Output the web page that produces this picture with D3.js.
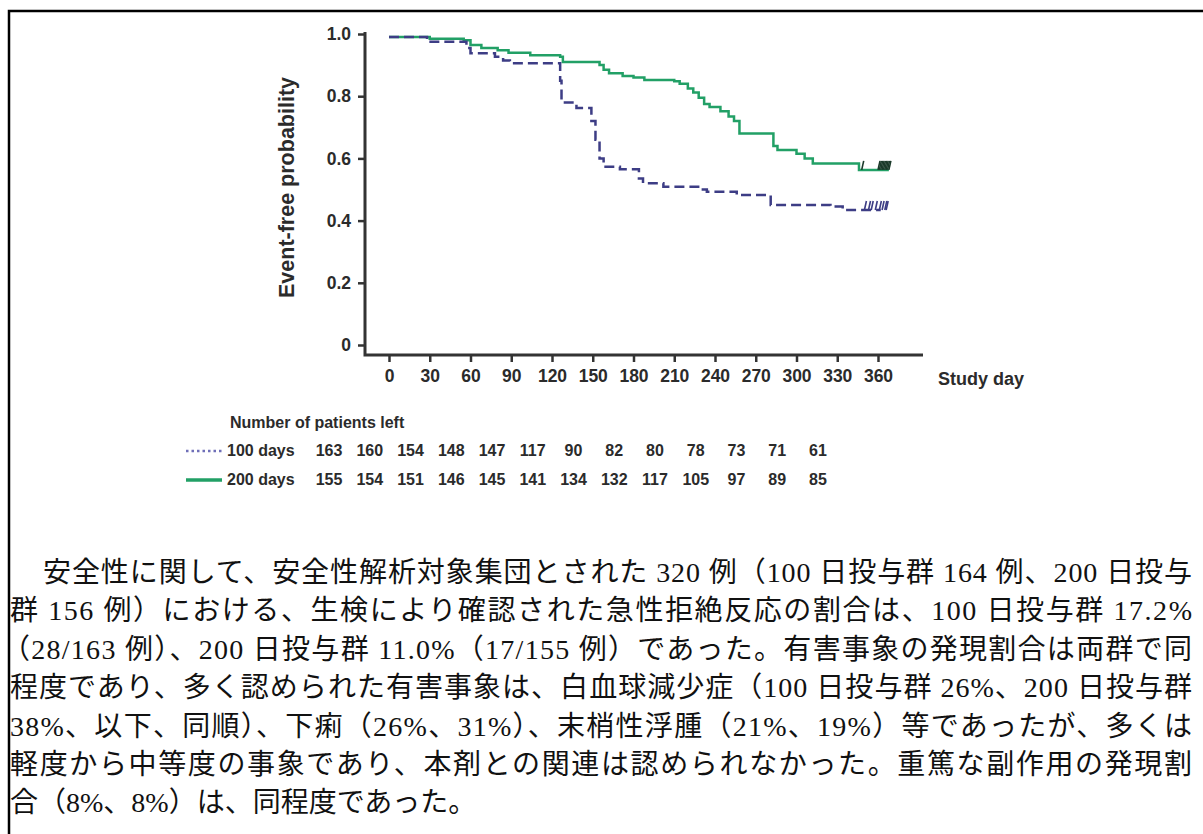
<!DOCTYPE html>
<html lang="ja">
<head>
<meta charset="utf-8">
<script src="https://cdn.jsdelivr.net/npm/d3@7"></script>
<style>
  body { margin: 0; background: #fff; }
</style>
</head>
<body>
<svg id="chart" width="1203" height="834"></svg>
<script>
'use strict';

var xTicks = [0, 30, 60, 90, 120, 150, 180, 210, 240, 270, 300, 330, 360];
var yTicks = [0, 0.2, 0.4, 0.6, 0.8, 1.0];
var groupLabels = ['100 days', '200 days'];

// patients at risk, one per x tick
var risk100 = [163, 160, 154, 148, 147, 117, 90, 82, 80, 78, 73, 71, 61];
var risk200 = [155, 154, 151, 146, 145, 141, 134, 132, 117, 105, 97, 89, 85];

// Kaplan-Meier steps (day, event-free probability)
var t100 = [0, 28, 57, 60, 78, 84, 89, 126, 127, 138, 149, 152, 155, 158, 170, 184, 187, 202, 230, 234, 256, 281, 325, 334, 362];
var s100 = [0.99, 0.975, 0.955, 0.938, 0.927, 0.915, 0.906, 0.85, 0.78, 0.762, 0.72, 0.66, 0.6, 0.573, 0.565, 0.535, 0.52, 0.509, 0.5, 0.493, 0.482, 0.45, 0.445, 0.434, 0.434];
var t200 = [0, 30, 55, 60, 68, 80, 88, 104, 126, 128, 155, 158, 162, 172, 180, 188, 210, 214, 220, 224, 228, 232, 236, 244, 250, 254, 258, 283, 286, 300, 306, 312, 346, 368];
var s200 = [0.99, 0.985, 0.98, 0.965, 0.955, 0.948, 0.94, 0.932, 0.927, 0.91, 0.9, 0.885, 0.874, 0.865, 0.86, 0.852, 0.848, 0.84, 0.825, 0.812, 0.795, 0.775, 0.765, 0.752, 0.735, 0.72, 0.68, 0.64, 0.627, 0.615, 0.6, 0.584, 0.563, 0.563];

// censored observations at the end of follow-up
var cens100 = [350, 353, 355, 358, 361, 363, 365, 366];
var cens200 = [348, 360, 361, 362, 363, 364, 365, 366, 367, 368];

var paraLines = [
  '安全性に関して、安全性解析対象集団とされた 320 例（100 日投与群 164 例、200 日投与',
  '群 156 例）における、生検により確認された急性拒絶反応の割合は、100 日投与群 17.2%',
  '（28/163 例）、200 日投与群 11.0%（17/155 例）であった。有害事象の発現割合は両群で同',
  '程度であり、多く認められた有害事象は、白血球減少症（100 日投与群 26%、200 日投与群',
  '38%、以下、同順）、下痢（26%、31%）、末梢性浮腫（21%、19%）等であったが、多くは',
  '軽度から中等度の事象であり、本剤との関連は認められなかった。重篤な副作用の発現割',
  '合（8%、8%）は、同程度であった。'
];

var colours = { c100: '#3d3d85', c200: '#22a066', axis: '#333', text: '#2b2b2b' };
var sans = 'Liberation Sans, Arial, Helvetica, sans-serif';

var svg = d3.select('#chart');

// frame around the page
svg.append('path')
  .attr('d', 'M9,834V11H1203')
  .attr('fill', 'none')
  .attr('stroke', '#000')
  .attr('stroke-width', 2.5);

var x = d3.scaleLinear().domain([0, 360]).range([389, 878]);
var y = d3.scaleLinear().domain([0, 1]).range([345, 34]);

var axisY = 355, axisX = 365;

// y axis
var gy = svg.append('g')
  .attr('transform', 'translate(' + axisX + ',0)')
  .call(d3.axisLeft(y).tickValues(yTicks).tickSize(7).tickPadding(7)
    .tickFormat(function(d) { return d === 0 ? '0' : d3.format('.1f')(d); }));
gy.select('.domain').remove();

// x axis
var gx = svg.append('g')
  .attr('transform', 'translate(0,' + axisY + ')')
  .call(d3.axisBottom(x).tickValues(xTicks).tickSize(7).tickPadding(8));
gx.select('.domain').remove();

[gx, gy].forEach(function(g) {
  g.selectAll('line').attr('stroke', colours.axis).attr('stroke-width', 2.5);
  g.selectAll('text')
    .attr('font-family', sans)
    .attr('font-weight', 'bold')
    .attr('font-size', 17.5)
    .attr('fill', colours.text);
});

svg.append('path')
  .attr('d', 'M' + axisX + ',' + (y(1) - 2) + 'V' + axisY + 'H923')
  .attr('fill', 'none')
  .attr('stroke', colours.axis)
  .attr('stroke-width', 3);

// axis titles
svg.append('text')
  .attr('transform', 'translate(294,' + (y(0.5) - 2) + ') rotate(-90)')
  .attr('text-anchor', 'middle')
  .attr('font-family', sans).attr('font-weight', 'bold').attr('font-size', 21.5)
  .attr('fill', colours.text)
  .text('Event-free probability');

svg.append('text')
  .attr('x', 938).attr('y', 385)
  .attr('font-family', sans).attr('font-weight', 'bold').attr('font-size', 18)
  .attr('fill', colours.text)
  .text('Study day');

// survival curves
var line = d3.line()
  .x(function(d) { return x(d[0]); })
  .y(function(d) { return y(d[1]); })
  .curve(d3.curveStepAfter);

var km200 = t200.map(function(t, i) { return [t, s200[i]]; });
var km100 = t100.map(function(t, i) { return [t, s100[i]]; });

svg.append('path')
  .datum(km200)
  .attr('d', line)
  .attr('fill', 'none')
  .attr('stroke', colours.c200)
  .attr('stroke-width', 2.5);

svg.append('path')
  .datum(km100)
  .attr('d', line)
  .attr('fill', 'none')
  .attr('stroke', colours.c100)
  .attr('stroke-width', 2.5)
  .attr('stroke-dasharray', '10,5');

function lastValue(ts, ss, t) {
  var v = ss[0];
  ts.forEach(function(tt, i) { if (tt <= t) v = ss[i]; });
  return v;
}

function censorMarks(ticks, ts, ss, colour) {
  svg.append('g').selectAll('line')
    .data(ticks)
    .enter().append('line')
      .attr('x1', function(d) { return x(d); })
      .attr('x2', function(d) { return x(d) + 2; })
      .attr('y1', function(d) { return y(lastValue(ts, ss, d)); })
      .attr('y2', function(d) { return y(lastValue(ts, ss, d)) - 9; })
      .attr('stroke', colour)
      .attr('stroke-width', 1.6);
}
censorMarks(cens100, t100, s100, colours.c100);
censorMarks(cens200, t200, s200, '#1b3a2a');

// number at risk table
var colOffset = -60;
var tableFont = 16;
svg.append('text')
  .attr('x', 230).attr('y', 428)
  .attr('font-family', sans).attr('font-weight', 'bold').attr('font-size', tableFont)
  .attr('fill', colours.text)
  .text('Number of patients left');

var rows = [
  { label: groupLabels[0], values: risk100, y: 456, colour: '#6f6fb8', dash: '2.5,3', width: 2.5 },
  { label: groupLabels[1], values: risk200, y: 485, colour: colours.c200, dash: null, width: 3.5 }
];

rows.forEach(function(r) {
  svg.append('line')
    .attr('x1', 186).attr('x2', 222)
    .attr('y1', r.y - 5).attr('y2', r.y - 5)
    .attr('stroke', r.colour)
    .attr('stroke-width', r.width)
    .attr('stroke-dasharray', r.dash);
  svg.append('text')
    .attr('x', 227).attr('y', r.y)
    .attr('font-family', sans).attr('font-weight', 'bold').attr('font-size', tableFont)
    .attr('fill', colours.text)
    .text(r.label);
  svg.append('g').selectAll('text')
    .data(r.values)
    .enter().append('text')
      .attr('x', function(d, i) { return x(xTicks[i]) + colOffset; })
      .attr('y', r.y)
      .attr('text-anchor', 'middle')
      .attr('font-family', sans).attr('font-weight', 'bold').attr('font-size', tableFont)
      .attr('fill', colours.text)
      .text(function(d) { return d; });
});

// paragraph below the chart
var para = svg.append('g')
  .attr('font-family', 'Liberation Serif, Times New Roman, Noto Sans CJK JP, serif')
  .attr('font-size', 28)
  .attr('fill', '#111');

paraLines.forEach(function(s, i) {
  var t = para.append('text')
    .attr('x', i === 0 ? 43 : (i === 2 ? 2 : 10))
    .attr('y', 582 + i * 38.4)
    .text(s);
  if (i < paraLines.length - 1) {
    t.attr('textLength', i === 0 ? 1149 : (i === 2 ? 1190 : 1182))
     .attr('lengthAdjust', 'spacing');
  }
});
</script>
</body>
</html>
